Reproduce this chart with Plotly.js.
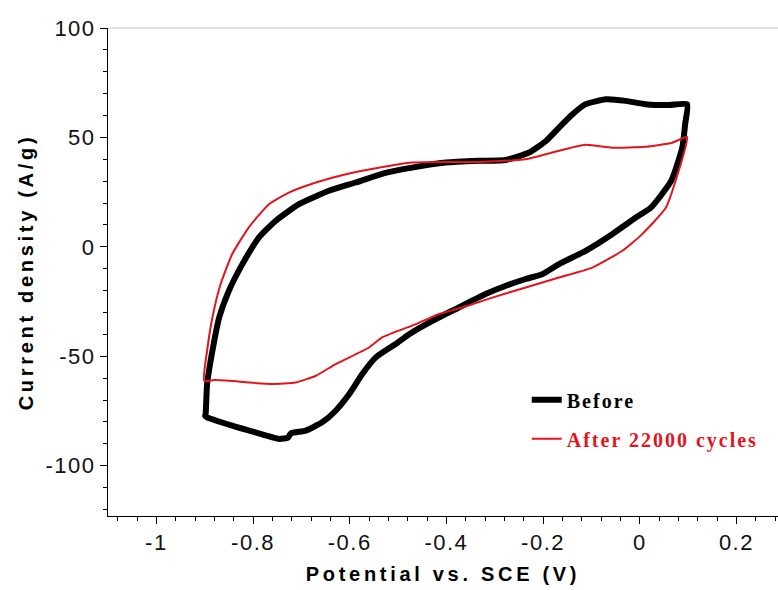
<!DOCTYPE html>
<html>
<head>
<meta charset="utf-8">
<script src="https://cdn.plot.ly/plotly-3.0.1.min.js"></script>
<style>
  html, body { margin: 0; padding: 0; background: #ffffff; }
  #chart { width: 778px; height: 590px; }
  .xtick text, .ytick text { letter-spacing: 1.5px; }
  .g-xtitle text, .g-ytitle text { letter-spacing: 3.7px; }
  .legendtext { letter-spacing: 2px; }
</style>
</head>
<body>
<div id="chart"></div>
<script>
// Before (thick black) : cathodic branch from +0.1 V down to -0.9 V, then anodic branch back
const beforePotential = [
  0.098, 0.094, 0.088, 0.065, 0.023, -0.008, -0.057, -0.112, -0.167, -0.202, -0.236,
  -0.277, -0.319, -0.374, -0.429, -0.477, -0.505, -0.546, -0.574, -0.601, -0.629,
  -0.657, -0.691, -0.7215, -0.7277, -0.746, -0.795, -0.843, -0.895, -0.899,
  -0.898, -0.895, -0.884, -0.870, -0.850, -0.822, -0.788, -0.753, -0.705, -0.643,
  -0.588, -0.526, -0.471, -0.401, -0.333, -0.277, -0.229, -0.194, -0.167, -0.139,
  -0.112, -0.070, -0.029, 0.012, 0.061, 0.098
];
const beforeCurrent = [
  65.2, 56.2, 45.3, 30.1, 17.9, 13.4, 5.8, -1.8, -7.9, -12.5, -14.7,
  -17.8, -21.6, -27.7, -33.8, -39.9, -44.4, -50.5, -58.1, -67.3, -74.9,
  -80.2, -84.0, -85.2, -87.2, -87.8, -84.8, -81.7, -77.9, -77.2,
  -76.4, -62.7, -47.5, -32.3, -20.1, -7.9, 4.2, 11.9, 19.5, 25.6,
  29.4, 33.8, 36.2, 38.5, 39.3, 39.7, 43.1, 48.4, 54.5, 60.6,
  65.2, 67.4, 66.7, 65.2, 64.8, 65.2
];

// After 22000 cycles (thin red)
const afterPotential = [
  0.098, 0.074, 0.054, 0.005, -0.036, -0.098, -0.167, -0.236, -0.305, -0.367,
  -0.415, -0.463, -0.533, -0.560, -0.629, -0.670, -0.712, -0.760, -0.808, -0.849,
  -0.880, -0.901,
  -0.895, -0.884, -0.867, -0.843, -0.809, -0.767, -0.726, -0.670, -0.608, -0.546,
  -0.471, -0.333, -0.236, -0.181, -0.112, -0.057, 0.012, 0.067, 0.098
];
const afterCurrent = [
  50.2, 30.1, 17.9, 5.8, -1.8, -9.5, -14.0, -18.6, -23.2, -27.7,
  -30.7, -35.3, -41.4, -46.0, -53.6, -58.9, -62.0, -62.7, -62.0, -61.2,
  -60.9, -61.2,
  -47.5, -32.3, -17.0, -3.3, 8.8, 19.5, 24.8, 29.4, 33.2, 35.9,
  38.5, 38.8, 40.0, 43.1, 46.6, 45.3, 45.7, 47.6, 50.2
];

const seriesNames = ['Before', 'After 22000 cycles'];
const xTitle = 'Potential vs. SCE (V)';
const yTitle = 'Current density (A/g)';
const xTickVals = [-1, -0.8, -0.6, -0.4, -0.2, 0, 0.2];
const xTickText = ['-1', '-0.8', '-0.6', '-0.4', '-0.2', '0', '0.2'];
const yTickVals = [-100, -50, 0, 50, 100];
const yTickText = ['-100', '-50', '0', '50', '100'];

const traces = [
  {
    x: beforePotential, y: beforeCurrent, type: 'scatter', mode: 'lines',
    name: '<b>' + seriesNames[0] + '</b>', legendgroup: 'a',
    line: { color: '#000000', width: 6, shape: 'spline', smoothing: 0.5 }
  },
  {
    x: afterPotential, y: afterCurrent, type: 'scatter', mode: 'lines',
    name: '<b><span style="color:#e3151b">' + seriesNames[1] + '</span></b>', legendgroup: 'b',
    line: { color: '#e3151b', width: 2, shape: 'spline', smoothing: 0.5 }
  }
];

const tickFont = { family: 'Liberation Sans, Arial, sans-serif', size: 22, color: '#111111' };
const titleFont = { family: 'Liberation Sans, Arial, sans-serif', size: 20, color: '#000000', weight: 'bold' };

const layout = {
  width: 778, height: 590,
  margin: { l: 108, r: 0, t: 28, b: 74, pad: 0 },
  paper_bgcolor: '#ffffff', plot_bgcolor: '#ffffff',
  showlegend: true,
  legend: {
    x: 0.625, y: 0.278, xanchor: 'left', yanchor: 'top',
    font: { family: 'Liberation Serif, Times New Roman, serif', size: 20, color: '#000000' },
    bgcolor: 'rgba(0,0,0,0)', borderwidth: 0, tracegroupgap: 10
  },
  xaxis: {
    range: [-1.1, 0.286], autorange: false,
    showgrid: false, zeroline: false,
    showline: true, linecolor: '#000000', linewidth: 1,
    ticks: 'outside', ticklen: 7, tickwidth: 1, tickcolor: '#000000',
    tickmode: 'array', tickvals: xTickVals, ticktext: xTickText,
    minor: { dtick: 0.04, tick0: 0, ticks: 'outside', ticklen: 4, tickcolor: '#000000', showgrid: false },
    tickfont: tickFont,
    title: { text: xTitle, font: titleFont, standoff: 12 }
  },
  yaxis: {
    range: [-123, 100], autorange: false,
    showgrid: false, zeroline: false,
    showline: true, linecolor: '#000000', linewidth: 1,
    ticks: 'outside', ticklen: 7, tickwidth: 1, tickcolor: '#000000',
    tickmode: 'array', tickvals: yTickVals, ticktext: yTickText,
    minor: { dtick: 10, tick0: 0, ticks: 'outside', ticklen: 4, tickcolor: '#000000', showgrid: false },
    tickfont: tickFont,
    title: { text: yTitle, font: titleFont, standoff: 6 }
  },
  shapes: [
    { type: 'line', xref: 'paper', yref: 'paper', x0: 0, x1: 1, y0: 1, y1: 1,
      line: { color: '#c8c8c8', width: 1 } }
  ]
};

Plotly.newPlot('chart', traces, layout, { displayModeBar: false, staticPlot: true });
</script>
</body>
</html>
